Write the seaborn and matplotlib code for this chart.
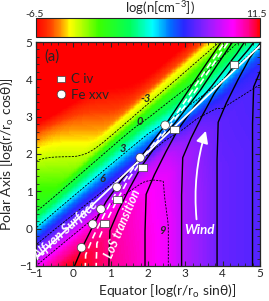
import numpy as np
import pandas as pd
import seaborn as sns
import matplotlib.pyplot as plt
from matplotlib.colors import LinearSegmentedColormap
from matplotlib.lines import Line2D
from matplotlib.ticker import MultipleLocator

# %% datos

# barra de color: posicion relativa -> color
cbar_pos = [0.0, 0.06, 0.11, 0.15, 0.21, 0.28, 0.42, 0.52, 0.60, 0.66, 0.77, 0.88, 0.95, 1.0]
cbar_col = ['#ff0000', '#ff3c00', '#ff9600', '#ffff00', '#aaff00', '#3cff00', '#00ff5a',
            '#00ffff', '#006eff', '#2828ff', '#961eff', '#ff00ff', '#ff008c', '#ff0000']
n_min, n_max = -6.5, 11.5

# densidad en la banda diagonal, u = Y - pend_banda*X
pend_banda = 0.87
u_banda = [-3, -1, -0.15, 0.05, 0.25, 0.55, 0.9, 1.3, 1.6, 1.82, 1.98, 2.33, 3, 8]
n_banda = [15, 12, 9.5, 8.5, 7.2, 6.0, 3.0, 0.0, -3.0, -3.9, -5.2, -6.5, -8.0, -12.0]
# cono polar (depende solo de la altura Y)
y_polo = [-1, 1.93, 2.3, 3.0, 3.8, 5.0]
n_polo = [2.3, -3.0, -3.8, -5.1, -6.5, -8.0]
# viento: perfil ecuatorial en log r y caida con psi = log(tan theta)
lr_viento = [-2, 0, 1, 2, 2.55, 3, 4, 5, 6]
n_viento = [14, 11.8, 10.6, 9.6, 9.0, 7.9, 6.5, 6.15, 5.5]
psi_viento = [-6, -1, 0, 0.37, 0.62, 0.82, 1.14, 1.55, 2.5, 8]
f_viento = [-20, -8, -3.5, -1.4, -0.7, -0.45, -0.15, -0.12, 0, 0]

niveles = [-3, 0, 3, 6, 9]
etiq_x = [1.95, 1.77, 1.32, 0.79, 2.38]
etiq_y = [3.49, 2.87, 2.15, 1.35, -0.04]

# linea de flujo base (autosimilar) y pies de las lineas
base_y = [-7, -2.0, -1.0, -0.48, 0.14, 0.72, 1.35, 1.90, 2.77, 4.0, 5.5, 7.0]
base_x = [0.0, 0.0, 0.03, 0.25, 0.56, 0.875, 1.32, 1.79, 2.46, 3.28, 4.3, 5.3]
pies = [0.0, 0.95, 1.92, 2.90, 3.85, 4.80]
pies_los = [0.3, 0.6]

alfven_x = [-1.0, 5.0]
alfven_y = [-0.8, 4.9]

# iones
civ_x = [0.84, 1.19, 1.86, 2.71, 4.30]
civ_y = [0.13, 0.77, 1.63, 2.65, 4.39]
fe_x = [0.22, 0.52, 0.74, 1.17, 1.79, 2.46]
fe_y = [-0.51, 0.12, 0.52, 1.11, 1.90, 2.77]

# %% campo de densidad

xs = np.linspace(-1, 5, 181)
X, Y = np.meshgrid(xs, xs)
lr = 0.5 * np.log10(10**(2 * X) + 10**(2 * Y))
psi = X - Y
n_b = np.interp(Y - pend_banda * X, u_banda, n_banda)
n_p = np.interp(Y, y_polo, n_polo)
n_w = np.interp(lr, lr_viento, n_viento) + np.interp(psi, psi_viento, f_viento)
n_bp = np.log10(10**n_b + 10**n_p)
logn = -np.log10(10**(-n_bp) + 10**(-n_w))

# %% grafico

sns.set_style('ticks')
plt.rcParams['font.family'] = ['Lato', 'DejaVu Sans']
plt.rcParams['mathtext.fontset'] = 'custom'
plt.rcParams['mathtext.rm'] = 'Lato'
plt.rcParams['mathtext.it'] = 'Lato:italic'

fig = plt.figure(figsize=(2.69, 3.01), dpi=100)
ax = fig.add_axes([36/269, 35/301, 224/269, 224/301])
cax = fig.add_axes([36/269, 264/301, 224/269, 19/301])

cmap = LinearSegmentedColormap.from_list('dens', list(zip(cbar_pos, cbar_col)))
im = ax.imshow(logn, extent=[-1, 5, -1, 5], origin='lower', cmap=cmap,
               vmin=n_min, vmax=n_max, interpolation='nearest', aspect='auto')
ax.contour(X, Y, logn, levels=niveles, colors='k', linewidths=0.6,
           linestyles=[(0, (2.5, 1.5))])
for t, xx, yy in zip(niveles, etiq_x, etiq_y):
    ax.text(xx, yy, str(t), fontsize=8, fontweight='bold', fontstyle='italic',
            ha='center', va='center')

# lineas de flujo
by = np.array(base_y)
bx = np.array(base_x)
for d in pies:
    ax.plot(bx + d, by + d, color='k', lw=1.0)
for d in pies_los:
    ax.plot(bx + d, by + d, color='white', lw=1.2, ls=(0, (4, 2.5)))
ax.plot(alfven_x, alfven_y, color='white', lw=1.3)

# marcadores
rect = [(-1.25, -1), (1.25, -1), (1.25, 1), (-1.25, 1), (-1.25, -1)]
df = pd.DataFrame({'x': civ_x + fe_x, 'y': civ_y + fe_y,
                   'ion': ['C iv'] * len(civ_x) + ['Fe xxv'] * len(fe_x)})
sns.scatterplot(data=df, x='x', y='y', style='ion', markers={'C iv': rect, 'Fe xxv': 'o'},
                color='white', edgecolor='0.25', linewidth=0.5, s=38, legend=False,
                ax=ax, zorder=5)
hs = [Line2D([], [], ls='', marker=rect, ms=6.2, mfc='white', mec='0.25', mew=0.5),
      Line2D([], [], ls='', marker='o', ms=6.2, mfc='white', mec='0.25', mew=0.5)]
ax.legend(hs, ['C iv', 'Fe xxv'], loc='upper left', bbox_to_anchor=(0.085, 0.86),
          frameon=False, fontsize=9.5, handlelength=0.9, handletextpad=0.3,
          labelspacing=0.25, borderpad=0, borderaxespad=0)

# textos
ax.text(-0.57, 4.6, '(a)', fontsize=10.5, ha='center', va='center')
ax.text(-0.2, -0.03, 'Alfven Surface', color='white', fontsize=9.5, fontweight='bold',
        fontstyle='italic', rotation=42, ha='center', va='center', rotation_mode='anchor')
ax.text(1.32, 0.14, 'LoS transition', color='white', fontsize=9, fontweight='bold',
        fontstyle='italic', rotation=67, ha='center', va='center', rotation_mode='anchor')
ax.text(3.37, -0.04, 'Wind', color='white', fontsize=9.5, fontweight='bold',
        fontstyle='italic', ha='center', va='center')
ax.annotate('', xy=(3.55, 2.62), xytext=(3.3, 0.25),
            arrowprops=dict(arrowstyle='-|>,head_length=0.6,head_width=0.3', color='white',
                            lw=1.3, connectionstyle='arc3,rad=-0.1', shrinkA=0, shrinkB=0,
                            mutation_scale=12))

# ejes
ax.set_xlim(-1, 5)
ax.set_ylim(-1, 5)
ax.xaxis.set_minor_locator(MultipleLocator(0.2))
ax.yaxis.set_minor_locator(MultipleLocator(0.2))
ax.tick_params(which='both', direction='in', top=True, right=True, labelsize=8.5)
ax.tick_params(axis='x', pad=1.5)
ax.tick_params(axis='y', pad=2.5)
ax.tick_params(which='major', length=3.5, width=0.8)
ax.tick_params(which='minor', length=2, width=0.6)
for s in ax.spines.values():
    s.set_linewidth(0.9)
ax.set_xlabel('Equator [log(r/r$_{\\mathrm{o}}$ sinθ)]', fontsize=10)
ax.set_ylabel('Polar Axis [log(r/r$_{\\mathrm{o}}$ cosθ)]', fontsize=10)
ax.xaxis.set_label_coords(0.583, -0.076)
ax.yaxis.set_label_coords(-0.089, 0.5)

# barra de color
fig.colorbar(im, cax=cax, orientation='horizontal')
cax.set_xticks([])
cax.tick_params(length=0)
fig.text(35/269, 1 - 16.7/301, '-6.5', fontsize=7.5, ha='center', va='baseline')
fig.text(267/269, 1 - 16.7/301, '11.5', fontsize=7.5, ha='right', va='baseline')
fig.text(160/269, 1 - 13/301, 'log(n[cm$^{\\mathrm{-3}}$])', fontsize=9.5, ha='center',
         va='baseline')

fig.savefig('out.png', dpi=100)
